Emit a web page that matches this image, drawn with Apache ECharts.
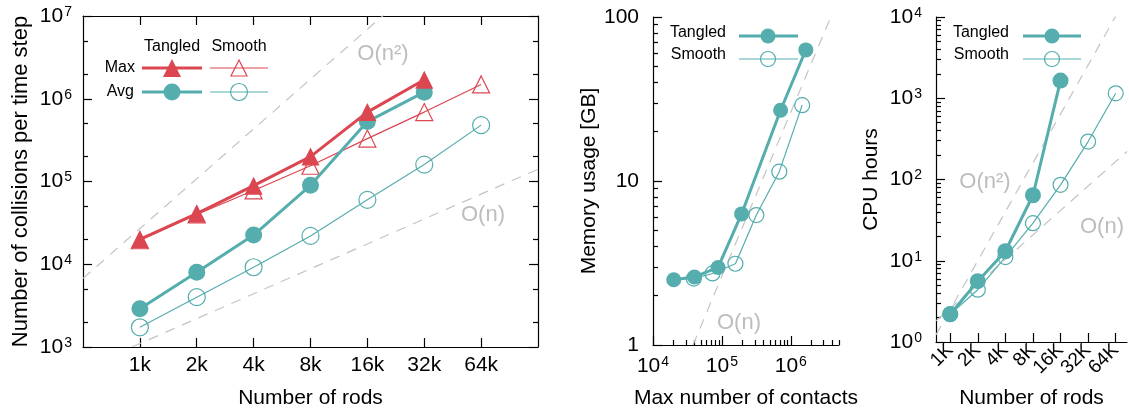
<!DOCTYPE html>
<html><head><meta charset="utf-8">
<script src="https://cdn.jsdelivr.net/npm/echarts@6/dist/echarts.min.js"></script>
<style>html,body{margin:0;padding:0;background:#fff}#c{width:1129px;height:414px}</style>
</head><body><div id="c"></div>
<script>
// ---------- data ----------
const rods = [1000, 2000, 4000, 8000, 16000, 32000, 64000];
const rodLabelsLower = ['1k', '2k', '4k', '8k', '16k', '32k', '64k'];
const rodLabelsUpper = ['1K', '2K', '4K', '8K', '16K', '32K', '64K'];

// panel 1: collisions per time step
const collTangledMax = [2.0e4, 4.1e4, 8.9e4, 2.0e5, 6.9e5, 1.7e6];
const collTangledAvg = [2.9e3, 8.0e3, 2.25e4, 9.0e4, 5.3e5, 1.2e6];
const collSmoothMax = [1.95e4, 4.0e4, 7.8e4, 1.55e5, 3.3e5, 6.9e5, 1.49e6];
const collSmoothAvg = [1.73e3, 4.0e3, 9.2e3, 2.2e4, 6.0e4, 1.6e5, 4.8e5];

// panel 2: memory vs max contacts
const contactsTangled = [2.0e4, 4.0e4, 8.8e4, 1.93e5, 7.1e5, 1.65e6];
const memTangled = [2.5, 2.6, 2.97, 6.3, 27, 63];
const contactsSmooth = [3.9e4, 7.3e4, 1.57e5, 3.16e5, 6.8e5, 1.46e6];
const memSmooth = [2.54, 2.73, 3.13, 6.2, 11.4, 29];

// panel 3: CPU hours
const cpuTangled = [2.2, 5.6, 13.1, 64, 1650];
const cpuSmooth = [2.2, 4.4, 11.1, 29, 86, 293, 1150];

// scaling guide lines (endpoints)
const guideCollN2 = [[500, 6.75e3], [20000, 1.08e7]];
const guideCollN = [[500, 550], [128000, 1.41e5]];
const guideMemN = [[3.8e4, 1], [3.8e6, 100]];
const guideCpuN2 = [[700, 1.225], [70000, 12250]];
const guideCpuN = [[700, 1.82], [85000, 221]];

// tick values
const collMajor = [1e3, 1e4, 1e5, 1e6, 1e7];
const collMinor = [2e3, 5e3, 2e4, 5e4, 2e5, 5e5, 2e6, 5e6];
const memMajor = [1, 10, 100];
const memMinor = [2, 3, 4, 5, 6, 7, 8, 9, 20, 30, 40, 50, 60, 70, 80, 90];
const contactsMajor = [1e4, 1e5, 1e6];
const contactsMinor = [2e4, 3e4, 4e4, 5e4, 6e4, 7e4, 8e4, 9e4, 2e5, 3e5, 4e5, 5e5, 6e5, 7e5, 8e5, 9e5, 2e6, 3e6, 4e6, 5e6];
const cpuMajor = [1, 10, 100, 1000, 10000];
const cpuMinor = [2, 3, 4, 5, 6, 7, 8, 9, 20, 30, 40, 50, 60, 70, 80, 90, 200, 300, 400, 500, 600, 700, 800, 900, 2000, 3000, 4000, 5000, 6000, 7000, 8000, 9000];

// ---------- style ----------
const FONT = '"Liberation Sans", Arial, Helvetica, sans-serif';
const BLACK = '#000';
const RED = '#dc4651';
const TEAL = '#55adad';
const GRAY = '#c4c4c4';
const GRAYTXT = '#bdbdbd';

const supRich = {
  b: { fontSize: 21, fontFamily: FONT, color: BLACK, lineHeight: 22 },
  s: { fontSize: 14, fontFamily: FONT, color: BLACK, verticalAlign: 'top', lineHeight: 12, padding: [0, 0, 0, 1] }
};
function supFmt(v) { return '{b|10}{s|' + Math.round(Math.log10(v)) + '}'; }
function rodFmt(labels) { return v => { const i = rods.findIndex(r => Math.abs(r - v) < 1); return i >= 0 ? labels[i] : ''; }; }

function logAxis(o) {
  const base = {
    type: 'log', splitLine: { show: false }, axisPointer: { show: false },
    axisLine: { show: true, onZero: false, lineStyle: { color: BLACK, width: 1.2 } },
    axisTick: { show: true, inside: true, length: 9, lineStyle: { color: BLACK, width: 1.2 } },
    axisLabel: { show: false },
    nameTextStyle: { fontSize: 21, fontFamily: FONT, color: BLACK }
  };
  const r = Object.assign({}, base, o);
  if (o.axisTick) r.axisTick = Object.assign({}, base.axisTick, o.axisTick);
  if (o.axisLine) r.axisLine = Object.assign({}, base.axisLine, o.axisLine);
  if (o.nameTextStyle) r.nameTextStyle = Object.assign({}, base.nameTextStyle, o.nameTextStyle);
  if (o.axisLabel && o.axisLabel.show) {
    r.axisLabel = Object.assign({ hideOverlap: false, showMinLabel: true, showMaxLabel: true }, o.axisLabel);
  }
  return r;
}
const noLine = { show: false };

const xAxes = [
  logAxis({ gridIndex: 0, position: 'bottom', logBase: 2, min: 500, max: 128000,
    axisTick: { customValues: rods },
    axisLabel: { show: true, customValues: rods, formatter: rodFmt(rodLabelsLower), fontSize: 21, fontFamily: FONT, color: BLACK, margin: 8 },
    name: 'Number of rods', nameLocation: 'middle', nameGap: 41 }),
  logAxis({ gridIndex: 0, position: 'top', logBase: 2, min: 500, max: 128000,
    axisTick: { customValues: rods } }),
  logAxis({ gridIndex: 1, position: 'bottom', min: 1e4, max: 5e6,
    axisTick: { customValues: contactsMajor },
    axisLabel: { show: true, customValues: contactsMajor, formatter: supFmt, rich: supRich, margin: 10 },
    name: 'Max number of contacts', nameLocation: 'middle', nameGap: 43 }),
  logAxis({ gridIndex: 1, position: 'bottom', min: 1e4, max: 5e6, axisLine: noLine,
    axisTick: { customValues: contactsMinor, length: 5 } }),
  logAxis({ gridIndex: 2, position: 'bottom', logBase: 2, min: 700, max: 85000,
    axisTick: { customValues: rods },
    axisLabel: { show: true, customValues: rods, formatter: rodFmt(rodLabelsUpper), fontSize: 19, fontFamily: FONT, color: BLACK, rotate: 45, margin: 5 },
    name: 'Number of rods', nameLocation: 'middle', nameGap: 46 })
];

const yAxes = [
  logAxis({ gridIndex: 0, position: 'left', min: 1e3, max: 1e7,
    axisTick: { customValues: collMajor },
    axisLabel: { show: true, customValues: collMajor, formatter: supFmt, rich: supRich, margin: 11 },
    name: 'Number of collisions per time step', nameLocation: 'middle', nameGap: 51,
    nameTextStyle: { fontSize: 22 } }),
  logAxis({ gridIndex: 0, position: 'left', min: 1e3, max: 1e7, axisLine: noLine,
    axisTick: { customValues: collMinor, length: 5 } }),
  logAxis({ gridIndex: 0, position: 'right', min: 1e3, max: 1e7,
    axisTick: { customValues: collMajor } }),
  logAxis({ gridIndex: 0, position: 'right', min: 1e3, max: 1e7, axisLine: noLine,
    axisTick: { customValues: collMinor, length: 5 } }),
  logAxis({ gridIndex: 1, position: 'left', min: 1, max: 100,
    axisTick: { customValues: memMajor },
    axisLabel: { show: true, customValues: memMajor, fontSize: 21, fontFamily: FONT, color: BLACK, margin: 14 },
    name: 'Memory usage [GB]', nameLocation: 'middle', nameGap: 52 }),
  logAxis({ gridIndex: 1, position: 'left', min: 1, max: 100, axisLine: noLine,
    axisTick: { customValues: memMinor, length: 5 } }),
  logAxis({ gridIndex: 2, position: 'left', min: 1, max: 1e4,
    axisTick: { customValues: cpuMajor },
    axisLabel: { show: true, customValues: cpuMajor, formatter: supFmt, rich: supRich, margin: 14 },
    name: 'CPU hours', nameLocation: 'middle', nameGap: 54 }),
  logAxis({ gridIndex: 2, position: 'left', min: 1, max: 1e4, axisLine: noLine,
    axisTick: { customValues: cpuMinor, length: 5 } })
];

function pairs(xs, ys) { return ys.map((y, i) => [xs[i], y]); }

function guide(xi, yi, data) {
  return { type: 'line', xAxisIndex: xi, yAxisIndex: yi, data: data, symbol: 'none', silent: true,
    lineStyle: { color: GRAY, width: 1.2, type: [10, 8] }, z: 1 };
}
function filled(xi, yi, data, color, sym, size) {
  return { type: 'line', xAxisIndex: xi, yAxisIndex: yi, data: data, symbol: sym, symbolSize: size,
    lineStyle: { color: color, width: 3 }, itemStyle: { color: color }, z: 4 };
}
function open(xi, yi, data, color, sym, size) {
  return { type: 'line', xAxisIndex: xi, yAxisIndex: yi, data: data, symbol: sym, symbolSize: size,
    lineStyle: { color: color, width: 1.2 }, itemStyle: { color: 'rgba(255,255,255,0)', borderColor: color, borderWidth: 1.2 }, z: 3 };
}

const series = [
  guide(0, 0, guideCollN2), guide(0, 0, guideCollN),
  open(0, 0, pairs(rods, collSmoothMax), RED, 'triangle', 17),
  open(0, 0, pairs(rods, collSmoothAvg), TEAL, 'circle', 17),
  filled(0, 0, pairs(rods, collTangledAvg), TEAL, 'circle', 17),
  filled(0, 0, pairs(rods, collTangledMax), RED, 'triangle', 18),

  guide(2, 4, guideMemN),
  open(2, 4, pairs(contactsSmooth, memSmooth), TEAL, 'circle', 15),
  filled(2, 4, pairs(contactsTangled, memTangled), TEAL, 'circle', 15),

  guide(4, 6, guideCpuN2), guide(4, 6, guideCpuN),
  open(4, 6, pairs(rods, cpuSmooth), TEAL, 'circle', 15),
  filled(4, 6, pairs(rods, cpuTangled), TEAL, 'circle', 16)
];

// ---------- legends & annotations ----------
function txt(x, y, text, align, size, color) {
  return { type: 'text', silent: true, z: 10, style: { x: x, y: y, text: text, align: align, verticalAlign: 'middle',
    textAlign: align, textVerticalAlign: 'middle', fontSize: size, fontFamily: FONT, fill: color || BLACK } };
}
function seg(x1, x2, y, color, w) {
  return { type: 'line', silent: true, z: 10, shape: { x1: x1, y1: y, x2: x2, y2: y }, style: { stroke: color, lineWidth: w } };
}
function tri(cx, cy, s, color, fill) {
  return { type: 'polygon', silent: true, z: 11, shape: { points: [[cx, cy - s / 2], [cx + s / 2, cy + s / 2], [cx - s / 2, cy + s / 2]] },
    style: fill ? { fill: color } : { fill: 'rgba(0,0,0,0)', stroke: color, lineWidth: 1.2 } };
}
function circ(cx, cy, r, color, fill) {
  return { type: 'circle', silent: true, z: 11, shape: { cx: cx, cy: cy, r: r },
    style: fill ? { fill: color } : { fill: 'rgba(0,0,0,0)', stroke: color, lineWidth: 1.2 } };
}

const graphics = [
  // panel 1 legend
  txt(172, 47, 'Tangled', 'center', 16), txt(239, 47, 'Smooth', 'center', 16),
  txt(135, 68, 'Max', 'right', 16), txt(134, 92, 'Avg', 'right', 16),
  seg(142, 202, 68, RED, 3), tri(172, 68, 18, RED, true),
  seg(210, 268, 68, RED, 1.2), tri(239, 68, 16, RED, false),
  seg(142, 202, 92, TEAL, 3), circ(172, 92, 8.5, TEAL, true),
  seg(210, 268, 92, TEAL, 1.2), circ(239, 92, 8.5, TEAL, false),
  // panel 2 legend
  txt(726, 33, 'Tangled', 'right', 16), seg(739, 798, 36, TEAL, 3), circ(768, 36, 7.5, TEAL, true),
  txt(726, 55, 'Smooth', 'right', 16), seg(739, 798, 59, TEAL, 1.2), circ(768, 59, 7.5, TEAL, false),
  // panel 3 legend
  txt(1009, 33, 'Tangled', 'right', 16), seg(1023, 1081, 36, TEAL, 3), circ(1052, 36, 7.5, TEAL, true),
  txt(1009, 55, 'Smooth', 'right', 16), seg(1023, 1081, 59, TEAL, 1.2), circ(1052, 59, 7.5, TEAL, false),
  // guide labels
  txt(383, 54, 'O(n²)', 'center', 22, GRAYTXT), txt(483, 215, 'O(n)', 'center', 22, GRAYTXT),
  txt(739, 323, 'O(n)', 'center', 22, GRAYTXT),
  txt(985, 182, 'O(n²)', 'center', 22, GRAYTXT), txt(1102, 227, 'O(n)', 'center', 22, GRAYTXT)
];

const chart = echarts.init(document.getElementById('c'), null, { renderer: 'canvas' });
chart.setOption({
  animation: false,
  backgroundColor: '#fff',
  grid: [
    { left: 83, top: 16, width: 455, height: 334 },
    { left: 653, top: 17, width: 186, height: 332 },
    { left: 936, top: 17, width: 191, height: 328 }
  ],
  xAxis: xAxes,
  yAxis: yAxes,
  series: series,
  graphic: graphics
});
</script></body></html>
